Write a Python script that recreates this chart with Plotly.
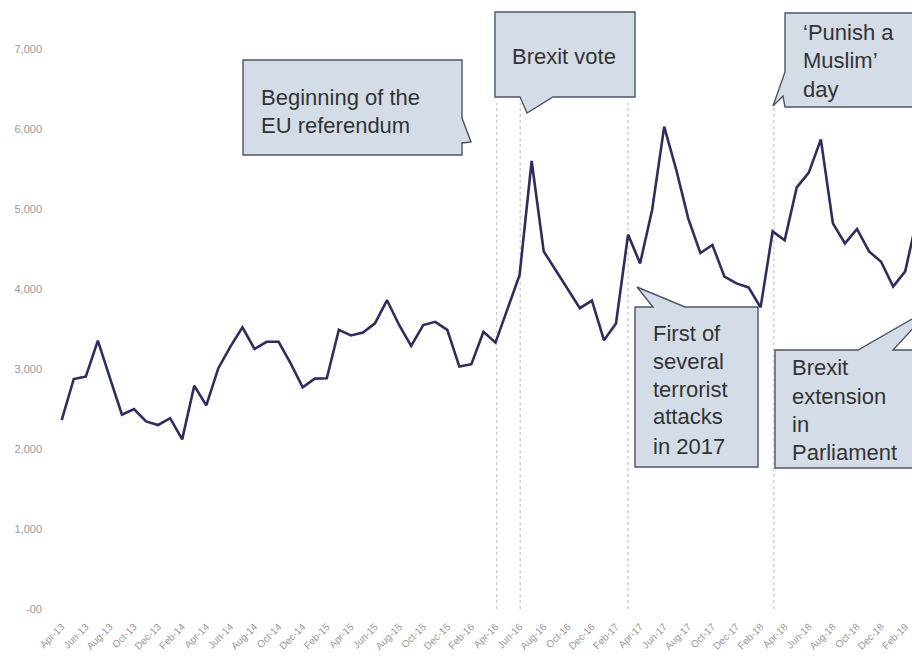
import plotly.graph_objects as go

# ---- data ----
months_idx = list(range(72))
values = [2360, 2875, 2905, 3355, 2890, 2430, 2500, 2345, 2300, 2385, 2120, 2790,
          2545, 3010, 3280, 3520, 3250, 3340, 3340, 3070, 2770, 2880, 2885, 3490,
          3420, 3455, 3570, 3860, 3550, 3290, 3550, 3590, 3490, 3030, 3060, 3465,
          3330, 3760, 4175, 5600, 4470, 4235, 3990, 3760, 3855, 3360, 3570, 4680,
          4320, 4990, 6030, 5490, 4880, 4450, 4550, 4155, 4070, 4020, 3770, 4720,
          4610, 5270, 5455, 5870, 4820, 4570, 4750, 4470, 4340, 4030, 4220, 4900]
tick_labels = ["Apr-13", "Jun-13", "Aug-13", "Oct-13", "Dec-13", "Feb-14",
               "Apr-14", "Jun-14", "Aug-14", "Oct-14", "Dec-14", "Feb-15",
               "Apr-15", "Jun-15", "Aug-15", "Oct-15", "Dec-15", "Feb-16",
               "Apr-16", "Jun-16", "Aug-16", "Oct-16", "Dec-16", "Feb-17",
               "Apr-17", "Jun-17", "Aug-17", "Oct-17", "Dec-17", "Feb-18",
               "Apr-18", "Jun-18", "Aug-18", "Oct-18", "Dec-18", "Feb-19"]
tick_vals = list(range(0, 72, 2))
y_tick_vals = [0, 1000, 2000, 3000, 4000, 5000, 6000, 7000]
y_tick_text = ["-00", "1,000", "2,000", "3,000", "4,000", "5,000", "6,000", "7,000"]
event_x = [36.1, 38.05, 47.0, 59.1]

# ---- layout geometry (pixels) ----
W, H = 912, 656
ML, MR, MT, MB = 50, 0, 0, 47
PW, PH = W - ML - MR, H - MT - MB


def px(x):
    return (x - ML) / PW


def py(y):
    return (H - MB - y) / PH


def path(points):
    s = "M" + " L".join(f"{px(x):.5f},{py(y):.5f}" for x, y in points) + " Z"
    return s


fig = go.Figure()
fig.add_trace(go.Scatter(x=months_idx, y=values, mode="lines",
                         line=dict(color="#2e2d5e", width=2.6),
                         hoverinfo="skip", showlegend=False))

shapes = []
for ex in event_x:
    shapes.append(dict(type="line", xref="x", yref="paper", x0=ex, x1=ex,
                       y0=0, y1=py(103), layer="below",
                       line=dict(color="#c4c4c4", width=1.2, dash="dot")))

fill = "#d4dde7"
border = "#4c5468"
callouts = [
    [(243, 60), (462, 60), (462, 118), (471, 142), (462, 143), (462, 155), (243, 155)],
    [(495, 12), (635, 12), (635, 97), (553, 97), (527, 113), (520, 97), (495, 97)],
    [(785, 13), (930, 13), (930, 107), (785, 107), (783, 96), (773, 106), (785, 72)],
    [(635, 307), (653, 307), (637, 287), (685, 307), (758, 307), (758, 467), (635, 467)],
    [(775, 350), (858, 350), (933, 307), (893, 350), (940, 350), (940, 468), (775, 468)],
]
for pts in callouts:
    shapes.append(dict(type="path", xref="paper", yref="paper", path=path(pts),
                       fillcolor=fill, line=dict(color=border, width=1.4),
                       layer="above"))

texts = [
    ("Beginning of the", 259, 97, "left"),
    ("EU referendum", 259, 126, "left"),
    ("Brexit vote", 564, 56, "center"),
    ("\u2018Punish a", 801, 32, "left"),
    ("Muslim\u2019", 801, 61, "left"),
    ("day", 801, 89, "left"),
    ("First of", 651, 333, "left"),
    ("several", 651, 361, "left"),
    ("terrorist", 651, 389, "left"),
    ("attacks", 651, 417, "left"),
    ("in 2017", 651, 446, "left"),
    ("Brexit", 790, 368, "left"),
    ("extension", 790, 396, "left"),
    ("in", 790, 424, "left"),
    ("Parliament", 790, 452, "left"),
]
annotations = []
for t, x, y, anc in texts:
    annotations.append(dict(text=t, xref="paper", yref="paper", x=px(x), y=py(y),
                            xanchor=anc, yanchor="middle", showarrow=False,
                            font=dict(family="Liberation Sans", size=22, color="#333333")))

x_px_per_unit = 12.05
x0 = -(61.7 - ML) / x_px_per_unit
x1 = x0 + PW / x_px_per_unit
y_max = 7000 * (609 - 0) / (609 - 49)

fig.update_layout(
    width=W, height=H,
    margin=dict(l=ML, r=MR, t=MT, b=MB, pad=0),
    paper_bgcolor="white", plot_bgcolor="white",
    shapes=shapes, annotations=annotations,
    xaxis=dict(range=[x0, x1], tickvals=tick_vals, ticktext=tick_labels,
               tickangle=-45, showgrid=False, zeroline=False, showline=False,
               automargin=False, ticklabelstandoff=9,
               tickfont=dict(family="Liberation Sans", size=10, color="#999999")),
    yaxis=dict(range=[0, y_max], tickvals=y_tick_vals, ticktext=y_tick_text,
               showgrid=False, zeroline=False, showline=False, automargin=False,
               ticklabelstandoff=7,
               tickfont=dict(family="Liberation Sans", size=11, color="#999999")),
)

fig.write_html("out.html")
